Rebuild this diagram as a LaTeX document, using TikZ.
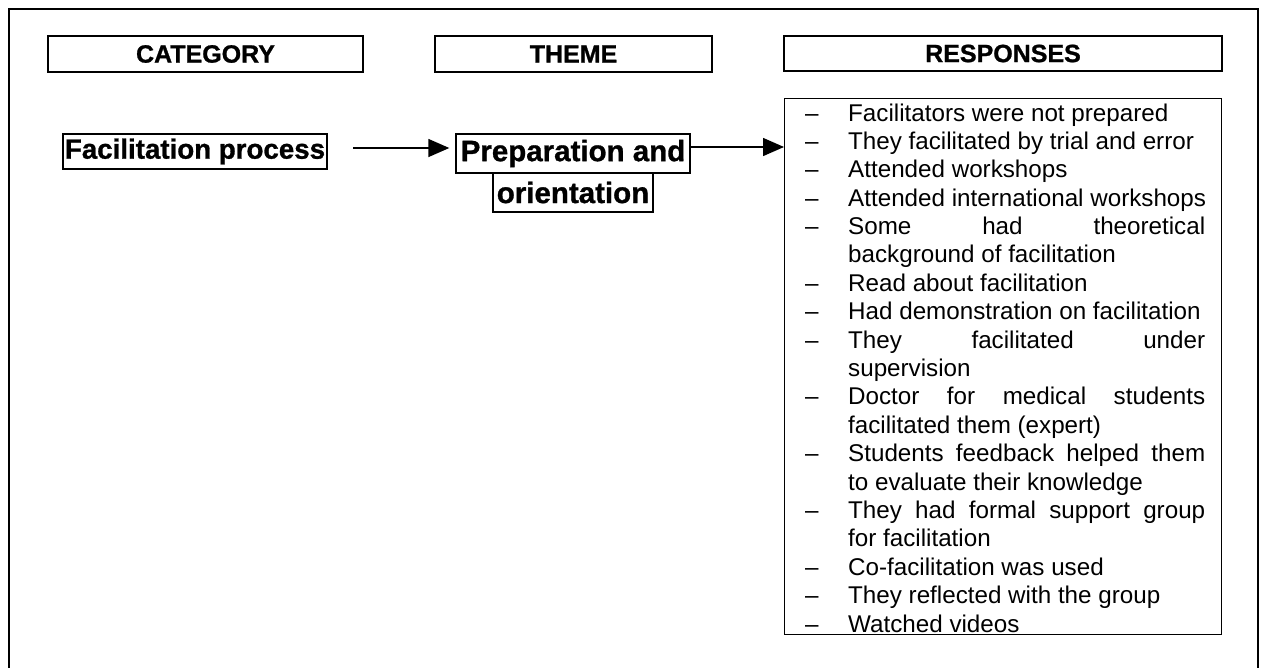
\documentclass[tikz,border=0pt]{standalone}
\usepackage{fontspec}
\setmainfont{Liberation Sans}[BoldFeatures={FakeBold=1.0}]
\usetikzlibrary{arrows.meta}

\tikzset{
  frameline/.style={line width=1.6pt, black},
  boxline/.style={draw, line width=1.4pt, inner sep=0pt},
  hdrbox/.style={boxline, minimum height=36pt, font=\fontsize{25}{30}\selectfont\bfseries},
  themebox/.style={boxline, minimum height=39pt, font=\fontsize{29.5}{34}\selectfont\bfseries},
  catbox/.style={boxline, minimum height=35pt, font=\fontsize{27.7}{32}\selectfont\bfseries},
  resptext/.style={inner sep=0pt, font=\fontsize{24.2}{28.4}\selectfont},
  conn/.style={line width=1.5pt, -{Triangle[length=21pt,width=18pt]}}
}

\begin{document}
\begin{tikzpicture}[x=1pt,y=-1pt]
\useasboundingbox (0,0) rectangle (1263,667);

% outer frame (open at the bottom edge of the page)
\draw[frameline] (9,670) -- (9,9) -- (1258,9) -- (1258,670);

% column headings
\node[hdrbox, minimum width=315pt] (hcat) at (205.5,54) {CATEGORY};
\node[hdrbox, minimum width=277pt] (htheme) at (573.5,54) {THEME};
\node[hdrbox, minimum width=438pt, minimum height=35pt] (hresp) at (1003,53.5) {RESPONSES};

% category and theme
\node[catbox, minimum width=264pt] (fp) at (195,151.5) {Facilitation process};
\node[themebox, minimum width=234pt] (prep1) at (573,153.5) {Preparation and};
\node[themebox, minimum width=160pt] (prep2) at (573,192.5) {orientation};

% responses box
\node[boxline, anchor=north west, minimum width=437pt, minimum height=536pt] (resp) at (784,98) {};

% connectors
\coordinate (a1) at (353,148);
\coordinate (a2) at (700,147);
\draw[conn, shorten >=6pt] (a1) -- (a1 -| prep1.west);
\draw[conn] (prep1.east |- a2) -- (resp.west |- a2);

% list of responses: dash flag / justified flag / text
\foreach \d/\j/\txt [count=\i from 0] in {
  1/0/Facilitators were not prepared,
  1/0/They facilitated by trial and error,
  1/0/Attended workshops,
  1/0/Attended international workshops,
  1/1/Some had theoretical,
  0/0/background of facilitation,
  1/0/Read about facilitation,
  1/0/Had demonstration on facilitation,
  1/1/They facilitated under,
  0/0/supervision,
  1/1/Doctor for medical students,
  0/0/facilitated them (expert),
  1/1/Students feedback helped them,
  0/0/to evaluate their knowledge,
  1/1/They had formal support group,
  0/0/for facilitation,
  1/0/Co-facilitation was used,
  1/0/They reflected with the group,
  1/0/Watched videos}{
  \pgfmathsetmacro{\by}{121+\i*28.39}
  \ifnum\d=1
    \node[resptext, anchor=base west] (dash\i) at (805,\by) {–};
  \fi
  \node[resptext, anchor=base west] (line\i) at (848,\by)
    {\ifnum\j=1 \makebox[357pt][s]{\txt}\else\txt\fi};
}
\end{tikzpicture}
\end{document}
